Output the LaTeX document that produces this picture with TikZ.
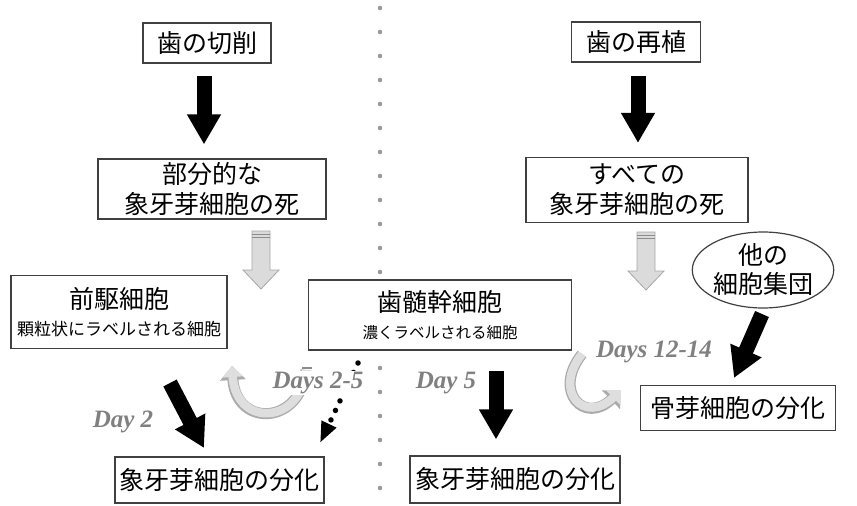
\documentclass[tikz,border=0pt]{standalone}
\usepackage{fontspec}
\setmainfont{Liberation Serif}
\newfontfamily\jp{Noto Sans CJK JP}
\usetikzlibrary{arrows.meta,shapes.geometric,calc}
\tikzset{
  box/.style={draw=black!75, line width=1.2pt, fill=white, inner sep=0pt, align=center,
    font=\jp\fontsize{25}{30}\selectfont},
  oval/.style={ellipse, draw=black!75, line width=1.2pt, fill=white, inner sep=0pt, align=center,
    font=\jp\fontsize{25}{29}\selectfont},
  bigarrow/.style={line width=15pt, black, -{Triangle[width=32pt,length=30pt]}},
  dayfont/.style={font=\fontsize{25}{27}\selectfont\bfseries\itshape, text=black!50, inner sep=1pt},
  grayarr/.style={fill=black!14, draw=black!35, line width=0.8pt},
  curveout/.style={line width=11pt, black!33, -{Triangle[width=25pt,length=14pt]}},
  curvein/.style={line width=8.5pt, black!13, -{Triangle[width=20.5pt,length=11pt]}},
  sepdot/.style={fill=black!40, draw=none},
  dotarrow/.style={line width=5.5pt, black, dash pattern=on 0pt off 10.5pt, line cap=round,
    -{Triangle[width=15pt,length=21pt]}}
}
\begin{document}
\begin{tikzpicture}[x=1pt,y=-1pt]
\useasboundingbox (0,0) rectangle (857,506);
% separator
\foreach \yy in {8,32,...,500} \fill[sepdot] (380,\yy) circle (2.3);
% boxes
\node[box, minimum width=128, minimum height=40] (cut) at (207,43) {歯の切削};
\node[box, minimum width=129, minimum height=40] (rep) at (636,42) {歯の再植};
\node[box, minimum width=228, minimum height=60] (partial) at (212,189) {部分的な\\象牙芽細胞の死};
\node[box, minimum width=222, minimum height=65] (all) at (637,190) {すべての\\象牙芽細胞の死};
\node[box, minimum width=216, minimum height=73] (prog) at (119,312)
  {前駆細胞\\[-3pt]{\fontsize{17}{20}\selectfont 顆粒状にラベルされる細胞}};
\node[box, minimum width=263, minimum height=70] (stem) at (440,315)
  {歯髄幹細胞\\[-3pt]{\fontsize{15.5}{20}\selectfont 濃くラベルされる細胞}};
\node[oval, minimum width=130, minimum height=76] (other) at (763,270) {他の\\細胞集団};
\node[box, minimum width=209, minimum height=46] (dif1) at (219.5,480) {象牙芽細胞の分化};
\node[box, minimum width=210, minimum height=47] (dif2) at (515,479.5) {象牙芽細胞の分化};
\node[box, minimum width=195, minimum height=45] (ost) at (738,408) {骨芽細胞の分化};
% black arrows
\draw[bigarrow, shorten <=12pt, shorten >=14pt] ($(cut.south)+(-3,0)$) -- ($(partial.north)+(-8,0)$);
\draw[bigarrow, shorten <=13pt, shorten >=14pt] ($(rep.south)+(2,0)$) -- ($(all.north)+(1,0)$);
\coordinate (d2s) at (170,383);
\coordinate (d2e) at (204,448);
\draw[bigarrow] (d2s) -- (d2e);
\draw[bigarrow, shorten <=20pt, shorten >=16pt] (stem.south -| 496,0) -- (dif2.north -| 496,0);
\coordinate (ots) at (762,314);
\coordinate (ote) at (734,378);
\draw[bigarrow] (ots) -- (ote);
% gray straight arrows
\coordinate (g1) at (261,231);
\coordinate (g2) at (646,232);
\foreach \g in {g1,g2}{
  \draw[grayarr] ($(\g)+(-9,0)$) -- ++(0,39) -- ++(-9,0) -- ++(18,19) -- ++(18,-19) -- ++(-9,0) -- ++(0,-39) -- cycle;
  \draw[black!45, line width=0.8pt] ($(\g)+(-9,3)$) -- ++(18,0);
  \draw[black!45, line width=0.8pt] ($(\g)+(-9,6)$) -- ++(18,0);
}
% curved gray arrows
\coordinate (c1s) at (306,370);
\coordinate (c1e) at (232,366);
\draw[curveout] (c1s) .. controls (301,425) and (236,428) .. (c1e);
\draw[curvein] (c1s) .. controls (301,425) and (236,428) .. (c1e);
\coordinate (c2s) at (582,354);
\coordinate (c2e) at (621,390);
\draw[curveout] (c2s) .. controls (552,392) and (585,425) .. (c2e);
\draw[curvein] (c2s) .. controls (552,392) and (585,425) .. (c2e);
% dotted arrow
\coordinate (dts) at (358,363);
\coordinate (dte) at (320,443);
\draw[dotarrow] (dts) -- (dte);
% labels
\node[dayfont, fill=white] (t25) at (318,383) {Days 2-5};
\draw[black!45, line width=1.5pt] (302,368) -- (312,368);
\node[dayfont] (t2) at (123,422) {Day 2};
\node[dayfont] (t5) at (446,383) {Day 5};
\node[dayfont] (t1214) at (654,352) {Days 12-14};
\end{tikzpicture}
\end{document}
